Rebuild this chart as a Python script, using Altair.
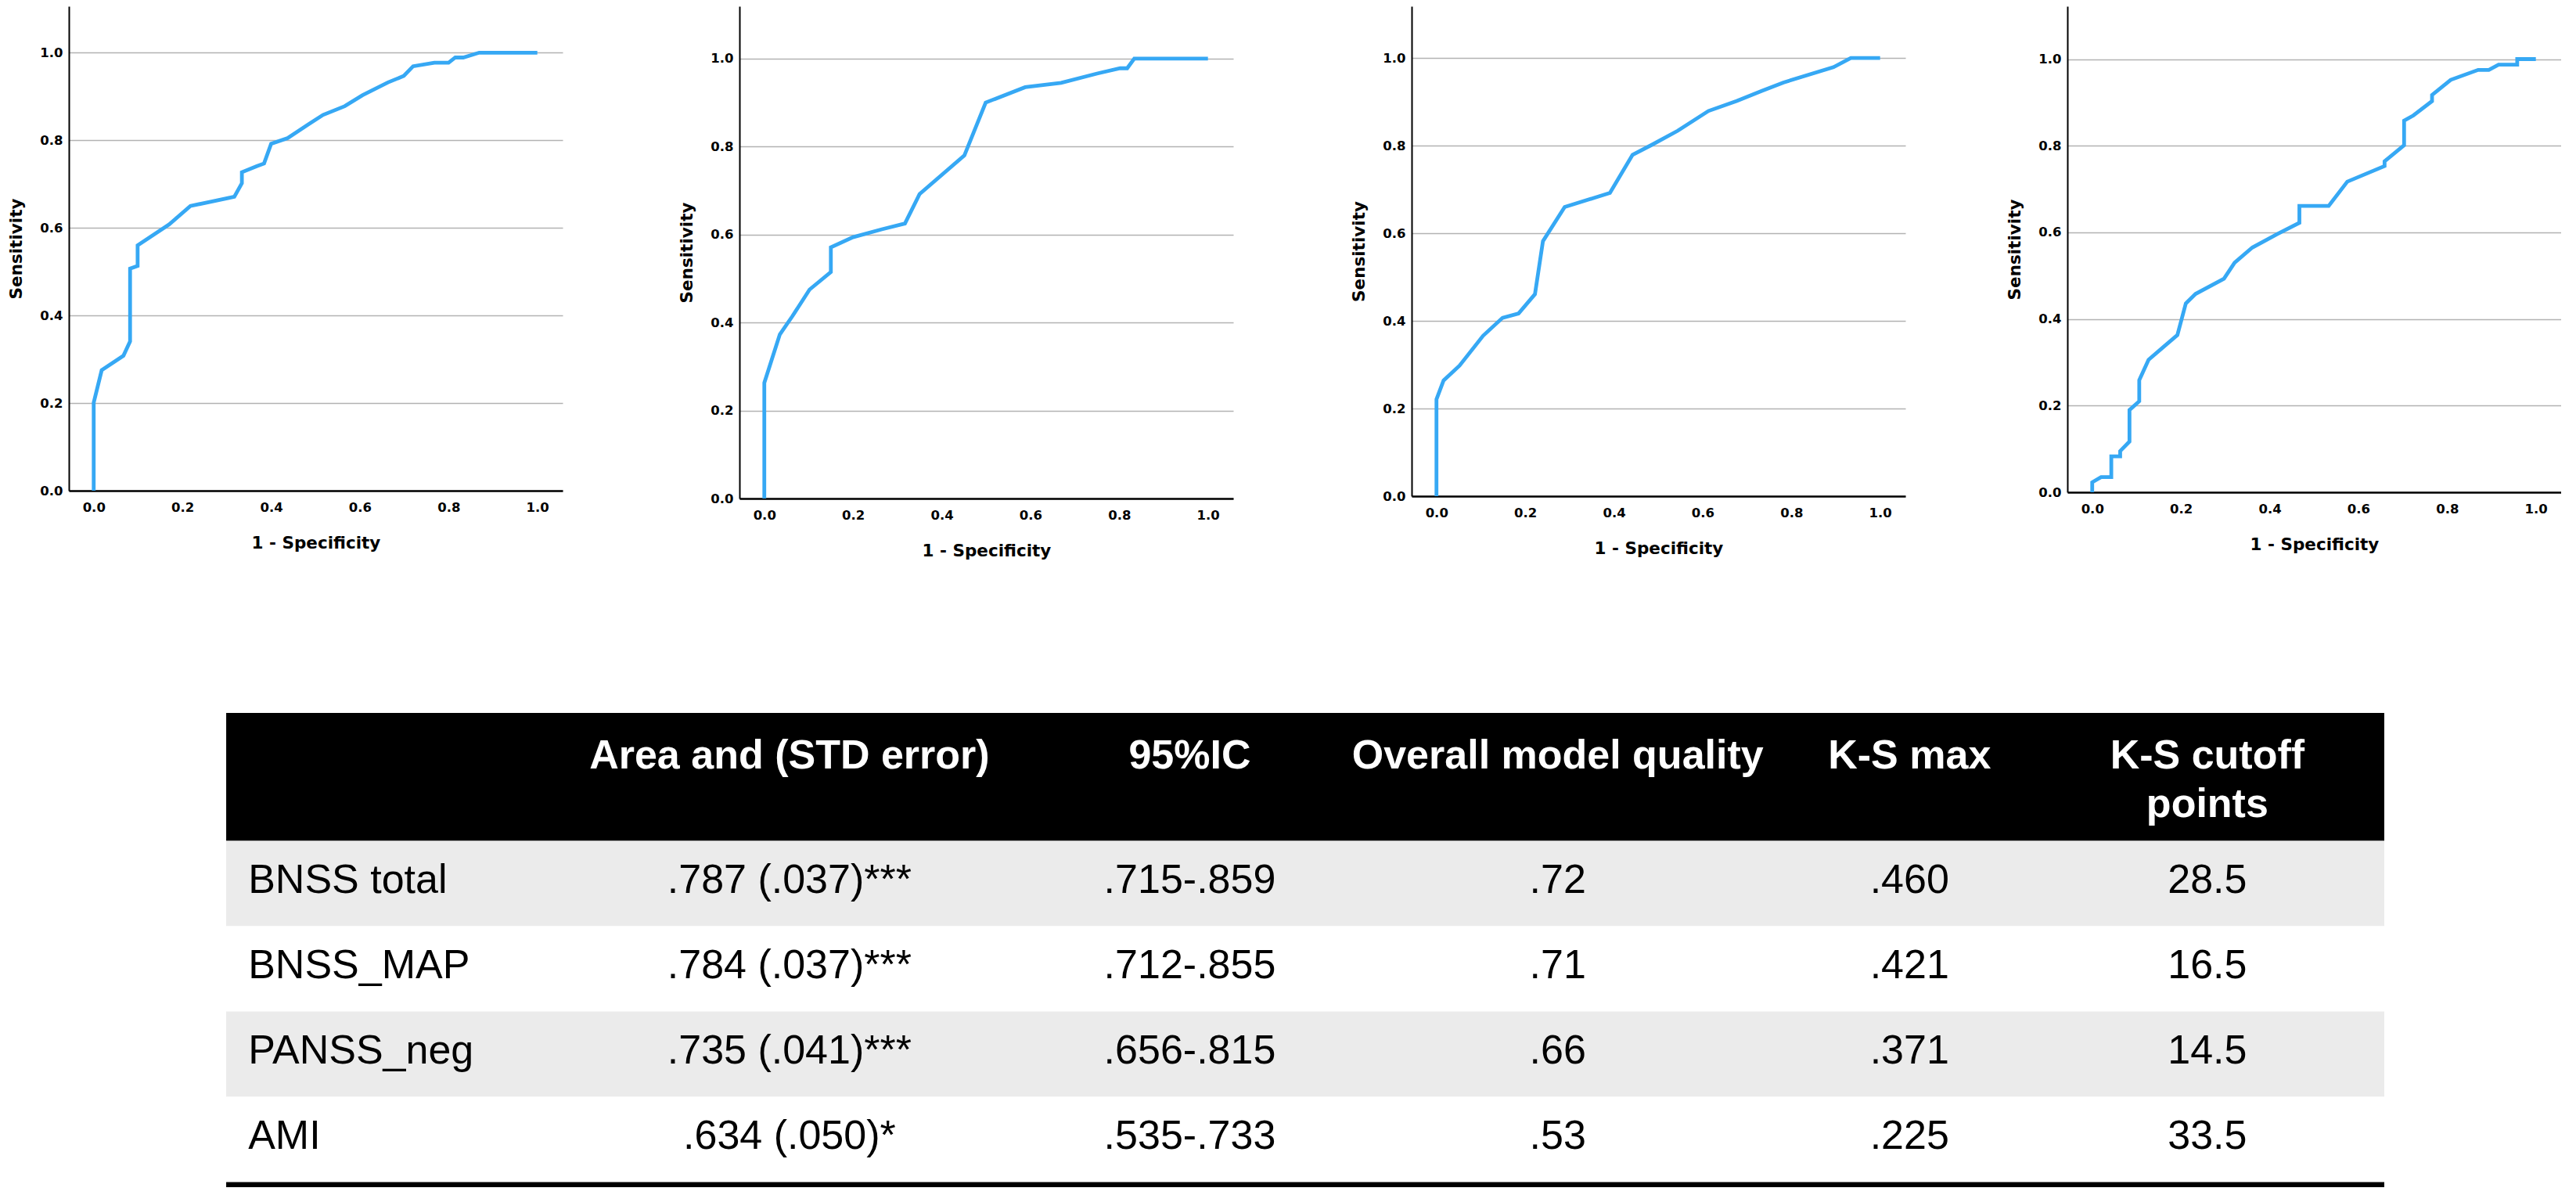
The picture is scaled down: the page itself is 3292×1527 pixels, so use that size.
import altair as alt
import pandas as pd

# ---------------- ROC curves (1 - specificity, sensitivity) ----------------
p1_fpr = [0.0, 0.0, 0.018, 0.067, 0.082, 0.082, 0.099, 0.099, 0.170, 0.218, 0.317, 0.334, 0.334, 0.368,
          0.384, 0.400, 0.437, 0.485, 0.517, 0.566, 0.606, 0.663, 0.699, 0.720, 0.768, 0.800, 0.815,
          0.833, 0.869, 1.0]
p1_tpr = [0.0, 0.201, 0.275, 0.308, 0.341, 0.507, 0.513, 0.560, 0.608, 0.650, 0.671, 0.702, 0.727, 0.741,
          0.747, 0.792, 0.805, 0.837, 0.858, 0.878, 0.903, 0.932, 0.947, 0.969, 0.977, 0.977, 0.989,
          0.989, 1.0, 1.0]

p2_fpr = [0.0, 0.0, 0.035, 0.063, 0.102, 0.150, 0.150, 0.200, 0.265, 0.317, 0.350, 0.451, 0.499, 0.588,
          0.669, 0.750, 0.802, 0.818, 0.834, 1.0]
p2_tpr = [0.0, 0.263, 0.373, 0.414, 0.475, 0.515, 0.571, 0.594, 0.612, 0.625, 0.692, 0.780, 0.900, 0.935,
          0.945, 0.966, 0.978, 0.978, 1.0, 1.0]

p3_fpr = [0.0, 0.0, 0.016, 0.052, 0.105, 0.149, 0.185, 0.222, 0.240, 0.289, 0.391, 0.442, 0.484, 0.544,
          0.613, 0.677, 0.734, 0.782, 0.895, 0.934, 1.0]
p3_tpr = [0.0, 0.221, 0.264, 0.298, 0.366, 0.407, 0.417, 0.461, 0.582, 0.660, 0.692, 0.779, 0.801, 0.834,
          0.879, 0.902, 0.925, 0.944, 0.979, 1.0, 1.0]

p4_fpr = [0.0, 0.0, 0.020, 0.043, 0.043, 0.063, 0.063, 0.084, 0.084, 0.106, 0.106, 0.127, 0.160, 0.192,
          0.211, 0.233, 0.297, 0.321, 0.361, 0.417, 0.467, 0.467, 0.533, 0.575, 0.659, 0.659, 0.703,
          0.703, 0.724, 0.766, 0.766, 0.808, 0.870, 0.894, 0.916, 0.958, 0.958, 1.0]
p4_tpr = [0.0, 0.023, 0.035, 0.035, 0.083, 0.083, 0.095, 0.117, 0.190, 0.210, 0.259, 0.306, 0.335, 0.363,
          0.436, 0.458, 0.493, 0.530, 0.565, 0.596, 0.622, 0.661, 0.661, 0.717, 0.753, 0.764, 0.801,
          0.858, 0.870, 0.903, 0.917, 0.952, 0.975, 0.975, 0.987, 0.987, 1.0, 1.0]

# ---------------- Table ----------------
header = ["", "Area and (STD error)", "95%IC", "Overall model quality", "K-S max", "K-S cutoff\npoints"]
row_labels = ["BNSS total", "BNSS_MAP", "PANSS_neg", "AMI"]
area_se = [".787 (.037)***", ".784 (.037)***", ".735 (.041)***", ".634 (.050)*"]
ci95 = [".715-.859", ".712-.855", ".656-.815", ".535-.733"]
quality = [".72", ".71", ".66", ".53"]
ks_max = [".460", ".421", ".371", ".225"]
ks_cut = ["28.5", "16.5", "14.5", "33.5"]

# ---------------- layout / style ----------------
BLUE = "#36a8f4"
FONT_AX = "DejaVu Sans"
FONT_TB = "Liberation Sans"
X_DOM = [-0.056, 1.057]
PANEL_W = 631
TICKS = [0.0, 0.2, 0.4, 0.6, 0.8, 1.0]

def roc_panel(fpr, tpr, height, ymax):
    df = pd.DataFrame({"fpr": fpr, "tpr": tpr, "i": list(range(len(fpr)))})
    return alt.Chart(df).mark_line(color=BLUE, strokeWidth=4.8).encode(
        x=alt.X("fpr:Q", scale=alt.Scale(domain=X_DOM, nice=False, zero=False),
                axis=alt.Axis(title="1 - Specificity", values=TICKS, format=".1f", grid=False,
                              ticks=False, labelPadding=13, titlePadding=27,
                              domainColor="black", domainWidth=2.5)),
        y=alt.Y("tpr:Q", scale=alt.Scale(domain=[0, ymax], nice=False, zero=False),
                axis=alt.Axis(title="Sensitivity", values=TICKS, format=".1f", grid=True,
                              gridColor="#b2b2b2", gridWidth=1.5, ticks=False,
                              labelPadding=8, titlePadding=18,
                              domainColor="black", domainWidth=2)),
        order="i:Q",
    ).properties(width=PANEL_W, height=height)

c1 = roc_panel(p1_fpr, p1_tpr, 619, 1.106)
c2 = roc_panel(p2_fpr, p2_tpr, 629, 1.119)
c3 = roc_panel(p3_fpr, p3_tpr, 626, 1.118)
c4 = roc_panel(p4_fpr, p4_tpr, 621, 1.122)

top = alt.hconcat(alt.hconcat(c1, c2, spacing=148), alt.hconcat(c3, c4, spacing=129), spacing=150)

# table layout (fractions of table width, row units)
col_anchor = [0.0102, 0.261, 0.4465, 0.617, 0.780, 0.918]
TB_X_DOM = [-0.0729, 1.0]
TB_W = 2959
TB_Y_DOM = [0, 5.56]
HEADER_H = 1.5
HEADER_BASE = 0.65
ROW_BASE = 0.61
FS = 52

bands = pd.DataFrame({
    "x": [0, 0, 0, 0, 0, 0],
    "x2": [1, 1, 1, 1, 1, 1],
    "y": [0, HEADER_H, HEADER_H + 1, HEADER_H + 2, HEADER_H + 3, HEADER_H + 4],
    "y2": [HEADER_H, HEADER_H + 1, HEADER_H + 2, HEADER_H + 3, HEADER_H + 4, HEADER_H + 4.06],
    "fill": ["#000000", "#ebebeb", "#ffffff", "#ebebeb", "#ffffff", "#000000"],
})

hdr = pd.DataFrame({"x": col_anchor[1:], "y": [HEADER_BASE] * 5, "t": header[1:]})

cols = [area_se, ci95, quality, ks_max, ks_cut]
body_rows = []
for r in range(len(row_labels)):
    for c, vals in enumerate(cols):
        body_rows.append({"x": col_anchor[c + 1], "y": HEADER_H + r + ROW_BASE, "t": vals[r]})
body = pd.DataFrame(body_rows)
lab = pd.DataFrame({"x": [col_anchor[0]] * 4,
                    "y": [HEADER_H + r + ROW_BASE for r in range(4)],
                    "t": row_labels})

xs = alt.Scale(domain=TB_X_DOM, nice=False, zero=False)
ys = alt.Scale(domain=TB_Y_DOM, nice=False, zero=False, reverse=True)

rects = alt.Chart(bands).mark_rect().encode(
    x=alt.X("x:Q", scale=xs, axis=None), x2="x2:Q",
    y=alt.Y("y:Q", scale=ys, axis=None), y2="y2:Q",
    color=alt.Color("fill:N", scale=None),
)
hdr_t = alt.Chart(hdr).mark_text(font=FONT_TB, fontSize=FS, fontWeight="bold", color="white",
                                 align="center", baseline="alphabetic", lineBreak="\n",
                                 lineHeight=62).encode(
    x=alt.X("x:Q", scale=xs, axis=None), y=alt.Y("y:Q", scale=ys, axis=None), text="t:N")
body_t = alt.Chart(body).mark_text(font=FONT_TB, fontSize=FS, color="black",
                                   align="center", baseline="alphabetic").encode(
    x=alt.X("x:Q", scale=xs, axis=None), y=alt.Y("y:Q", scale=ys, axis=None), text="t:N")
lab_t = alt.Chart(lab).mark_text(font=FONT_TB, fontSize=FS, color="black",
                                 align="left", baseline="alphabetic").encode(
    x=alt.X("x:Q", scale=xs, axis=None), y=alt.Y("y:Q", scale=ys, axis=None), text="t:N")

table = alt.layer(rects, hdr_t, body_t, lab_t).properties(width=TB_W, height=606)

chart = alt.vconcat(top, table, spacing=196).properties(
    padding={"left": 2, "top": 0, "right": 0, "bottom": 0},
    background="white",
).configure_view(stroke=None).configure_axis(
    labelFont=FONT_AX, labelFontWeight="bold", labelFontSize=16.5, labelColor="black",
    titleFont=FONT_AX, titleFontWeight="bold", titleFontSize=21.5, titleColor="black",
)

chart.save("out.html", embed_options={"renderer": "svg", "actions": False})
